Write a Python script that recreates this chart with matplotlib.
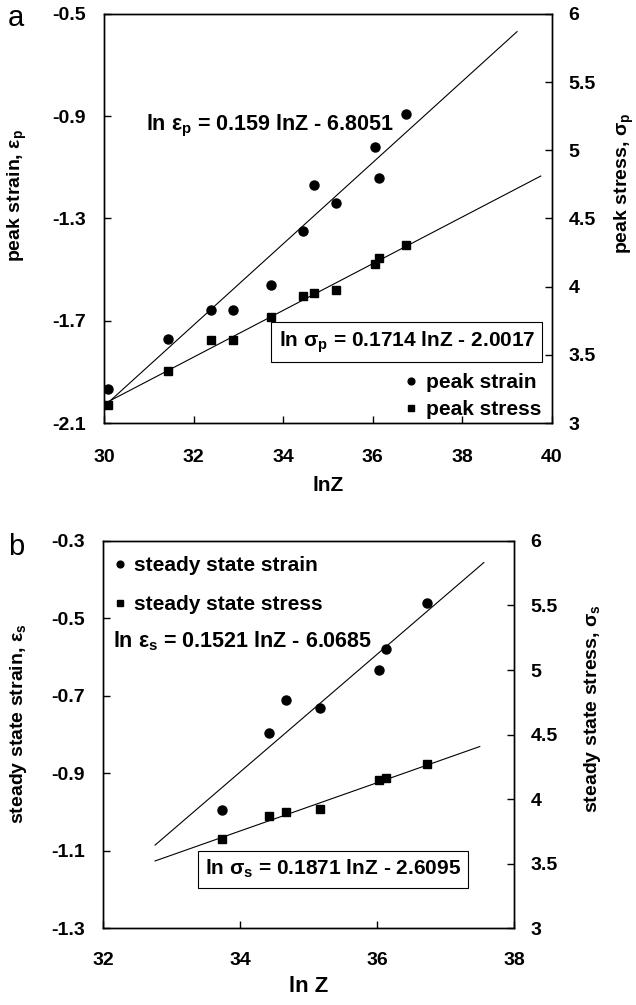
import numpy as np
import matplotlib
matplotlib.use("Agg")
import matplotlib.pyplot as plt

plt.rcParams['font.family'] = ['Liberation Sans', 'DejaVu Sans']
plt.rcParams['font.weight'] = 'bold'
plt.rcParams['axes.labelweight'] = 'bold'
plt.rcParams['axes.unicode_minus'] = False
plt.rcParams['mathtext.default'] = 'regular'

# panel a: peak values
lnz_peak = [30.08, 31.43, 32.38, 32.88, 33.72, 34.45, 34.69, 35.19, 36.04, 36.14, 36.75]
ln_strain_peak = [-1.967, -1.771, -1.659, -1.659, -1.560, -1.347, -1.170, -1.240, -1.021, -1.142, -0.892]
ln_stress_peak = [3.130, 3.382, 3.608, 3.608, 3.779, 3.931, 3.956, 3.973, 4.169, 4.211, 4.304]

# panel b: steady state values
lnz_steady = [33.73, 34.43, 34.67, 35.17, 36.03, 36.13, 36.73]
ln_strain_steady = [-0.995, -0.796, -0.712, -0.732, -0.633, -0.578, -0.459]
ln_stress_steady = [3.690, 3.871, 3.899, 3.925, 4.147, 4.163, 4.271]

# fitted lines: slope, intercept, lnZ range
fit_peak_strain = (0.159, -6.8051, [30.08, 39.22])
fit_peak_stress = (0.1714, -2.0017, [30.08, 39.75])
fit_steady_strain = (0.1521, -6.0685, [32.76, 37.56])
fit_steady_stress = (0.1871, -2.6095, [32.76, 37.50])

FS = 14      # ticks, axis labels
FS_EQ = 15.5  # free equations
FS_BOX = 15  # boxed equations, legends
BOX = dict(boxstyle='square,pad=0.35', fc='white', ec='black', lw=0.8)


def fit_line(ax, fit):
    k, b, xr = fit
    x = np.array(xr)
    ax.plot(x, k * x + b, color='black', lw=0.8)


def style_axes(ax, ax2):
    for a in (ax, ax2):
        a.tick_params(direction='in', length=5, width=1, labelsize=FS)
        for s in a.spines.values():
            s.set_linewidth(1.0)
    ax.tick_params(axis='y', pad=13)
    ax.tick_params(axis='x', pad=19)
    ax2.tick_params(axis='y', pad=12)


fig = plt.figure(figsize=(6.36, 10.05), dpi=100)

# ---- panel a ----
ax = fig.add_axes([0.1635, 0.5791, 0.7044, 0.407])
ax2 = ax.twinx()
fit_line(ax, fit_peak_strain)
fit_line(ax2, fit_peak_stress)
h1, = ax.plot(lnz_peak, ln_strain_peak, 'o', color='black', ms=6.5)
h2, = ax2.plot(lnz_peak, ln_stress_peak, 's', color='black', ms=6)
ax.set_xlim(30, 40)
ax.set_ylim(-2.1, -0.5)
ax2.set_ylim(3, 6)
ax.set_xticks([30, 32, 34, 36, 38, 40])
ax.set_yticks([-2.1, -1.7, -1.3, -0.9, -0.5])
ax2.set_yticks([3, 3.5, 4, 4.5, 5, 5.5, 6])
ax2.set_yticklabels(['3', '3.5', '4', '4.5', '5', '5.5', '6'])
style_axes(ax, ax2)
ax.set_xlabel('lnZ', fontsize=FS + 1)
ax.xaxis.set_label_coords(0.5, -0.13)
ax.set_ylabel('peak strain, ε$_{p}$', fontsize=FS)
ax.yaxis.set_label_coords(-0.168, 0.557)
ax2.set_ylabel('peak stress, σ$_{p}$', fontsize=FS)
ax2.yaxis.set_label_coords(1.136, 0.587)
ax.text(0.093, 0.727, 'ln ε$_{p}$ = 0.159 lnZ - 6.8051', transform=ax.transAxes,
        fontsize=FS_EQ, va='center', ha='left')
ax.text(0.676, 0.197, 'ln σ$_{p}$ = 0.1714 lnZ - 2.0017', transform=ax.transAxes,
        fontsize=FS_BOX, va='center', ha='center', bbox=BOX)
ax2.legend([h1, h2], ['peak strain', 'peak stress'], loc='lower left',
           bbox_to_anchor=(0.672, 0.01), frameon=False, fontsize=FS_BOX,
           handlelength=0.6, handletextpad=0.4, borderpad=0, borderaxespad=0,
           labelspacing=0.38, markerscale=0.75)
fig.text(16 / 636, 1 - 18 / 1005, 'a', fontsize=21, fontweight='normal', ha='center', va='center')

# ---- panel b ----
bx = fig.add_axes([0.162, 0.0766, 0.6462, 0.3851])
bx2 = bx.twinx()
fit_line(bx, fit_steady_strain)
fit_line(bx2, fit_steady_stress)
g1, = bx.plot(lnz_steady, ln_strain_steady, 'o', color='black', ms=6.5)
g2, = bx2.plot(lnz_steady, ln_stress_steady, 's', color='black', ms=6)
bx.set_xlim(32, 38)
bx.set_ylim(-1.3, -0.3)
bx2.set_ylim(3, 6)
bx.set_xticks([32, 34, 36, 38])
bx.set_yticks([-1.3, -1.1, -0.9, -0.7, -0.5, -0.3])
bx2.set_yticks([3, 3.5, 4, 4.5, 5, 5.5, 6])
bx2.set_yticklabels(['3', '3.5', '4', '4.5', '5', '5.5', '6'])
style_axes(bx, bx2)
bx.tick_params(axis='x', pad=17)
bx.set_xlabel('ln Z', fontsize=FS + 2)
bx.xaxis.set_label_coords(0.5, -0.125)
bx.set_ylabel('steady state strain, ε$_{s}$', fontsize=FS)
bx.yaxis.set_label_coords(-0.18, 0.527)
bx2.set_ylabel('steady state stress, σ$_{s}$', fontsize=FS)
bx2.yaxis.set_label_coords(1.165, 0.568)
bx.text(0.025, 0.742, 'ln ε$_{s}$ = 0.1521 lnZ - 6.0685', transform=bx.transAxes,
        fontsize=FS_EQ, va='center', ha='left')
bx.text(0.56, 0.152, 'ln σ$_{s}$ = 0.1871 lnZ - 2.6095', transform=bx.transAxes,
        fontsize=FS_BOX, va='center', ha='center', bbox=BOX)
bx2.legend([g1, g2], ['steady state strain', 'steady state stress'], loc='upper left',
           bbox_to_anchor=(0.025, 0.96), frameon=False, fontsize=FS_BOX,
           handlelength=0.6, handletextpad=0.4, borderpad=0, borderaxespad=0,
           labelspacing=0.95, markerscale=0.75)
fig.text(16 / 636, 1 - 547 / 1005, 'b', fontsize=21, fontweight='normal', ha='center', va='center')

fig.savefig('out.png', dpi=100)
